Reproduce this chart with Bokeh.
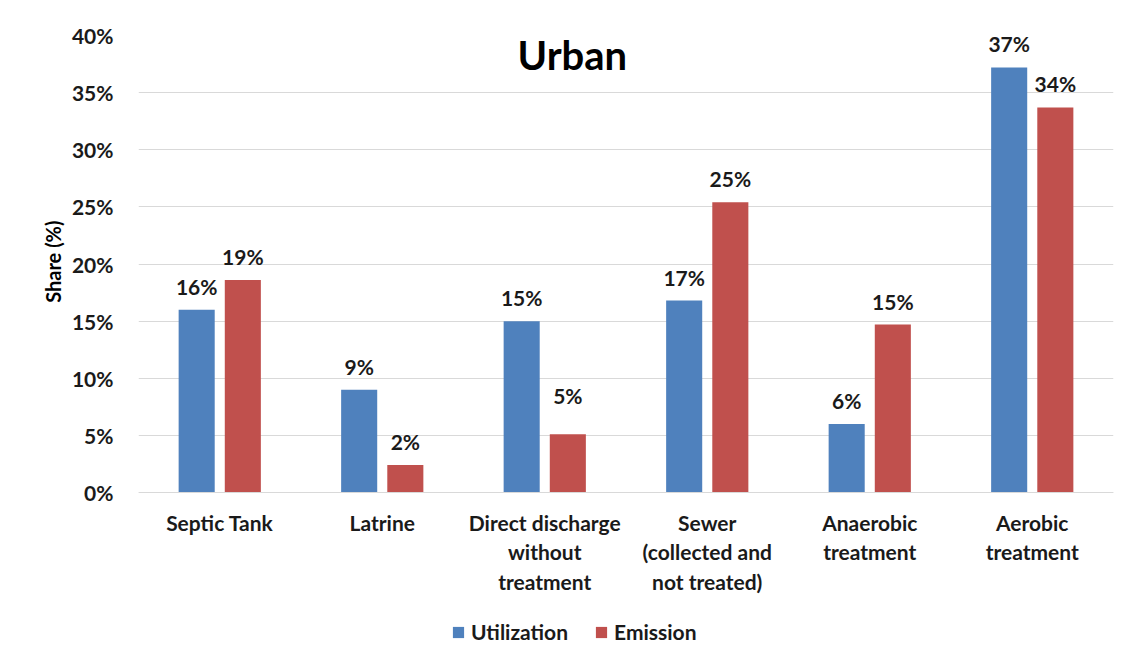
from bokeh.plotting import figure
from bokeh.models import (ColumnDataSource, FixedTicker, PrintfTickFormatter, Range1d,
                          Legend, LegendItem, Label, Span, Title)
from bokeh.embed import file_html
from bokeh.resources import INLINE
from bokeh.core.properties import value

# ---- data ----
categories = ["Septic Tank", "Latrine", "Direct discharge\nwithout\ntreatment",
              "Sewer\n(collected and\nnot treated)", "Anaerobic\ntreatment", "Aerobic\ntreatment"]
utilization = [16.0, 9.0, 15.0, 16.8, 6.0, 37.2]
emission = [18.6, 2.4, 5.1, 25.4, 14.7, 33.7]
y_ticks = [0, 5, 10, 15, 20, 25, 30, 35, 40]
title_text = "Urban"
y_label = "Share (%)"
series_names = ["Utilization", "Emission"]

# ---- style ----
BLUE = "#4f81bd"
RED = "#c0504d"
FONT = "Lato"
GRID = "#d9d9d9"
TXT = "#1a1a1a"
FS = "21px"

n = len(categories)
centers = [i + 0.5 for i in range(n)]
off = 0.142
bw = 0.222

# frame spans the whole lower area so the category labels and legend can sit inside it
FRAME_H = 628
PLOT_PX = 457          # pixels from 0% to 40%
y_top = 40
y_bottom = y_top - y_top * FRAME_H / PLOT_PX

p = figure(frame_width=975, frame_height=FRAME_H, output_backend="svg", toolbar_location=None,
           x_range=Range1d(0, n), y_range=Range1d(y_bottom, y_top), x_axis_location=None,
           min_border_left=138, min_border_right=14, min_border_top=35, min_border_bottom=0)
p.background_fill_color = "white"
p.border_fill_color = "white"
p.outline_line_color = None

src_u = ColumnDataSource(dict(x=[c - off for c in centers], top=utilization,
                              lab=[f"{round(v)}%" for v in utilization]))
src_e = ColumnDataSource(dict(x=[c + off for c in centers], top=emission,
                              lab=[f"{round(v)}%" for v in emission],
                              yo=[-11 if i != 2 else -26 for i in range(n)]))
src_c = ColumnDataSource(dict(x=centers, y=[0] * n, lab=categories))

r_u = p.vbar(x="x", top="top", width=bw, bottom=0, source=src_u, fill_color=BLUE, line_color=None)
r_e = p.vbar(x="x", top="top", width=bw, bottom=0, source=src_e, fill_color=RED, line_color=None)

for src, yo in ((src_u, -11), (src_e, "yo")):
    p.text(x="x", y="top", text="lab", source=src, y_offset=yo,
           text_align="center", text_baseline="bottom",
           text_font=value(FONT), text_font_style="bold", text_font_size=FS,
           text_color=TXT)

# baseline (category axis line)
p.add_layout(Span(location=0, dimension="width", line_color=GRID, line_width=1))

# category labels
p.text(x="x", y="y", text="lab", source=src_c, y_offset=17,
       text_align="center", text_baseline="top", text_line_height=1.18,
       text_font=value(FONT), text_font_style="bold", text_font_size=FS, text_color=TXT)

p.add_layout(Label(x=2.67, y=38.3, text=title_text, text_align="center", text_baseline="middle",
                   text_font=FONT, text_font_style="bold", text_font_size="40px", text_color="black"))

# y axis
p.yaxis.ticker = FixedTicker(ticks=y_ticks)
p.yaxis.formatter = PrintfTickFormatter(format="%d%%")
p.yaxis.major_tick_line_color = None
p.yaxis.minor_tick_line_color = None
p.yaxis.axis_line_color = None
p.yaxis.major_label_standoff = 19
p.yaxis.major_label_text_font = FONT
p.yaxis.major_label_text_font_style = "bold"
p.yaxis.major_label_text_font_size = FS
p.yaxis.major_label_text_color = TXT

p.add_layout(Title(text=y_label, align="right", offset=185, standoff=8,
                   text_font=FONT, text_font_style="bold", text_font_size="20px",
                   text_color="black"), "left")

p.xgrid.grid_line_color = None
p.ygrid.grid_line_color = GRID
p.ygrid.grid_line_width = 1

legend = Legend(items=[LegendItem(label=series_names[0], renderers=[r_u]),
                       LegendItem(label=series_names[1], renderers=[r_e])],
                orientation="horizontal", location=(313, 19))
legend.label_text_font = FONT
legend.label_text_font_style = "bold"
legend.label_text_font_size = FS
legend.label_text_color = TXT
legend.glyph_width = 14
legend.glyph_height = 14
legend.spacing = 26
legend.label_standoff = 6
legend.border_line_color = None
legend.background_fill_alpha = 0
legend.padding = 0
legend.margin = 0
p.add_layout(legend, "center")

open("out.html", "w").write(file_html(p, INLINE))
